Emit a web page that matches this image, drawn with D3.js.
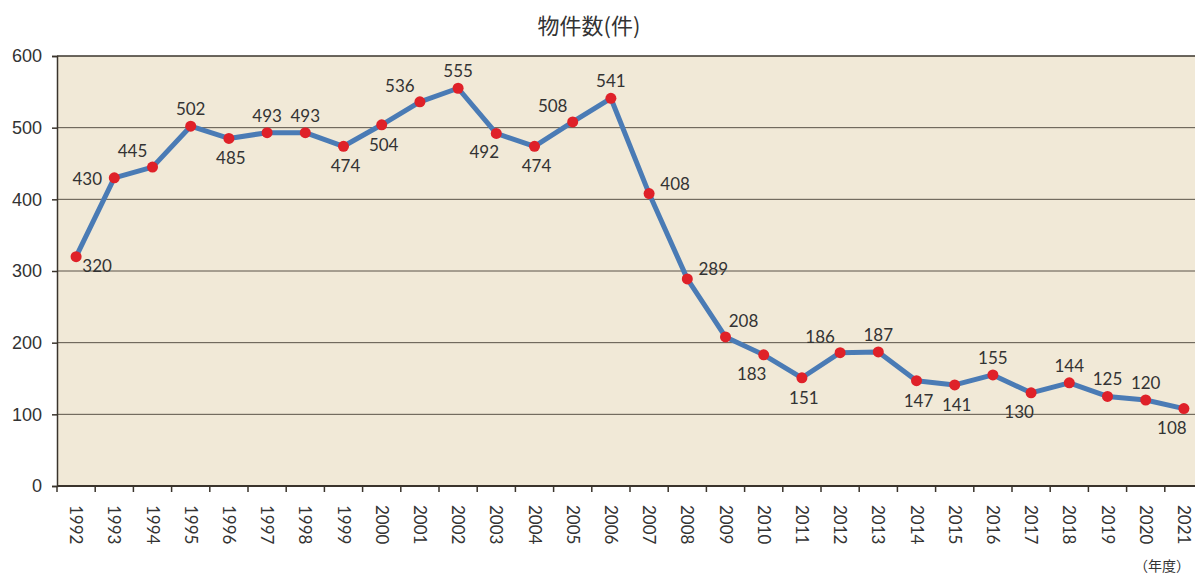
<!DOCTYPE html>
<html>
<head>
<meta charset="utf-8">
<script src="https://cdn.jsdelivr.net/npm/d3@7"></script>
<style>
  body { margin: 0; background: #fff; }
  svg { display: block; font-family: "Lato", "Noto Sans", sans-serif; }
</style>
</head>
<body>
<svg></svg>
<script>
const years = ['1992','1993','1994','1995','1996','1997','1998','1999','2000','2001',
  '2002','2003','2004','2005','2006','2007','2008','2009','2010','2011',
  '2012','2013','2014','2015','2016','2017','2018','2019','2020','2021'];
const counts = [320, 430, 445, 502, 485, 493, 493, 474, 504, 536,
  555, 492, 474, 508, 541, 408, 289, 208, 183, 151,
  186, 187, 147, 141, 155, 130, 144, 125, 120, 108];
// where each value label sits relative to its point
const labelSide = ['br','l','al','a','b','a','a','b','b','al',
  'a','bl','b','al','a','r','r','ar','bl','b',
  'al','a','b','b','a','bl','a','a','a','bl'];
const yTicks = [0, 100, 200, 300, 400, 500, 600];

const width = 1195, height = 574;
const margin = { top: 56, left: 57, bottom: 88 };
const plotRight = 1203;

const svg = d3.select('svg')
  .attr('width', width)
  .attr('height', height);

const x = d3.scaleBand()
  .domain(years)
  .range([margin.left, plotRight]);

const y = d3.scaleLinear()
  .domain([0, 600])
  .range([height - margin.bottom, margin.top]);

svg.append('rect')
  .attr('x', margin.left)
  .attr('y', margin.top)
  .attr('width', plotRight - margin.left)
  .attr('height', y(0) - margin.top)
  .attr('fill', '#f1e9d7');

// grid
svg.append('g')
  .selectAll('line')
  .data(yTicks.filter(d => d > 0 && d < 600))
  .join('line')
    .attr('x1', margin.left)
    .attr('x2', plotRight)
    .attr('y1', d => y(d))
    .attr('y2', d => y(d))
    .attr('stroke', '#5a5248')
    .attr('stroke-width', 1);

// top border
svg.append('line')
  .attr('x1', margin.left).attr('x2', plotRight)
  .attr('y1', y(600)).attr('y2', y(600))
  .attr('stroke', '#3a342c').attr('stroke-width', 1.5);

// y axis
const yAxis = svg.append('g')
  .attr('transform', 'translate(' + margin.left + ',0)')
  .call(d3.axisLeft(y).tickValues(yTicks).tickSize(5).tickPadding(10));
yAxis.select('.domain').attr('stroke', '#3a342c').attr('stroke-width', 1.5);
yAxis.selectAll('.tick line').attr('stroke', '#3a342c').attr('stroke-width', 1.5);
yAxis.selectAll('text')
  .attr('font-size', 18)
  .attr('fill', '#333');

// x axis, ticks on band edges
const xAxis = svg.append('g')
  .attr('transform', 'translate(0,' + y(0) + ')');
xAxis.append('line')
  .attr('x1', margin.left).attr('x2', plotRight)
  .attr('stroke', '#3a342c').attr('stroke-width', 2);
xAxis.selectAll('.edge')
  .data(years)
  .join('line')
    .attr('class', 'edge')
    .attr('x1', d => x(d)).attr('x2', d => x(d))
    .attr('y1', 0).attr('y2', 6)
    .attr('stroke', '#3a342c').attr('stroke-width', 1.5);
xAxis.selectAll('text')
  .data(years)
  .join('text')
    .attr('transform', d => 'translate(' + (x(d) + x.bandwidth() / 2 - 6) + ',19) rotate(90)')
    .attr('font-size', 17)
    .attr('fill', '#333')
    .text(d => d);

// line
const pts = years.map((d, i) => ({ year: d, value: counts[i], side: labelSide[i] }));
const cx = d => x(d.year) + x.bandwidth() / 2;

svg.append('path')
  .datum(pts)
  .attr('fill', 'none')
  .attr('stroke', '#4a7bb5')
  .attr('stroke-width', 5)
  .attr('stroke-linejoin', 'round')
  .attr('d', d3.line().x(cx).y(d => y(d.value)));

svg.append('g')
  .selectAll('circle')
  .data(pts)
  .join('circle')
    .attr('cx', cx)
    .attr('cy', d => y(d.value))
    .attr('r', 5.5)
    .attr('fill', '#df2129');

const offsets = {
  a: [0, -17], b: [2, 20], al: [-20, -16], ar: [18, -16],
  bl: [-12, 19], br: [21, 9], l: [-27, 1], r: [26, -10]
};
svg.append('g')
  .selectAll('text')
  .data(pts)
  .join('text')
    .attr('x', d => cx(d) + offsets[d.side][0])
    .attr('y', d => y(d.value) + offsets[d.side][1])
    .attr('dy', '0.35em')
    .attr('text-anchor', 'middle')
    .attr('font-size', 17)
    .attr('fill', '#333')
    .text(d => d.value);

svg.append('text')
  .attr('x', 589)
  .attr('y', 26)
  .attr('dy', '0.35em')
  .attr('text-anchor', 'middle')
  .attr('font-family', '"Noto Sans CJK JP", sans-serif')
  .attr('font-size', 22)
  .attr('fill', '#333')
  .text('物件数(件)');

svg.append('text')
  .attr('x', 1190)
  .attr('y', 566)
  .attr('dy', '0.35em')
  .attr('text-anchor', 'end')
  .attr('font-family', '"Noto Sans CJK JP", sans-serif')
  .attr('font-size', 14)
  .attr('fill', '#333')
  .text('（年度）');
</script>
</body>
</html>
